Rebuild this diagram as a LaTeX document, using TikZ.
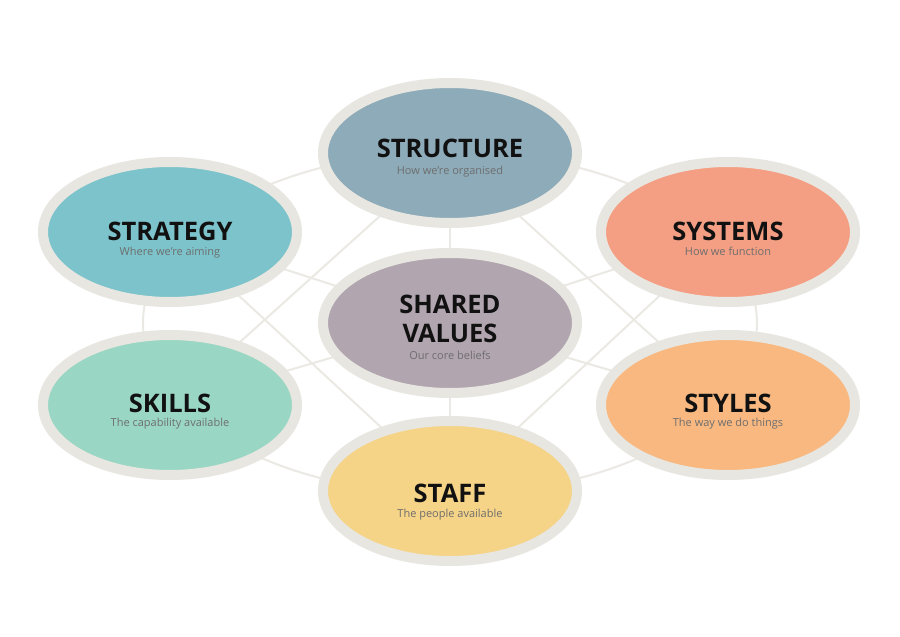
\documentclass[tikz,border=0pt]{standalone}
\usepackage{fontspec}
\setmainfont{Open Sans}
\usetikzlibrary{shapes.geometric,backgrounds}
\definecolor{ringc}{HTML}{E8E6E0}
\definecolor{linec}{HTML}{EBE9E3}
\definecolor{cstructure}{HTML}{8EABB9}
\definecolor{cstrategy}{HTML}{7CC3CB}
\definecolor{csystems}{HTML}{F49F83}
\definecolor{cshared}{HTML}{B1A5AF}
\definecolor{cskills}{HTML}{9AD6C4}
\definecolor{cstyles}{HTML}{F8B880}
\definecolor{cstaff}{HTML}{F5D387}
\definecolor{subc}{HTML}{6E6E6E}
\definecolor{titlec}{HTML}{111111}
\tikzset{
  sbox/.style={ellipse, draw=ringc, line width=10pt, fill=#1,
    minimum width=254pt, minimum height=140pt, inner sep=0pt},
  ttl/.style={anchor=base, text=titlec, font=\fontsize{25.5}{28}\selectfont\bfseries, inner sep=0pt},
  sub/.style={anchor=base, text=subc, font=\fontsize{11}{13}\selectfont, inner sep=0pt},
  web/.style={draw=linec, line width=2pt}
}
\begin{document}
\begin{tikzpicture}[x=1pt,y=-1pt]
\useasboundingbox (0,0) rectangle (900,637);
\node[sbox=cstructure] (structure) at (450,153) {};
\node[sbox=cstrategy] (strategy) at (170,232) {};
\node[sbox=csystems] (systems) at (728,232) {};
\node[sbox=cshared] (shared) at (450,323) {};
\node[sbox=cskills] (skills) at (170,405) {};
\node[sbox=cstyles] (styles) at (728,405) {};
\node[sbox=cstaff] (staff) at (450,491) {};
\begin{pgfonlayer}{background}
\fill[white] (0,0) rectangle (900,637);
\draw[web] (shared.center) ellipse [x radius=307, y radius=171];
\draw[web] (structure.center) -- (staff.center);
\foreach \n in {strategy,systems,skills,styles}
  \draw[web] (shared.center) -- (\n.center);
\draw[web] (structure.center) -- (skills.center);
\draw[web] (structure.center) -- (styles.center);
\draw[web] (strategy.center) -- (staff.center);
\draw[web] (systems.center) -- (staff.center);
\end{pgfonlayer}
\node[ttl] (t1) at (450,157) {STRUCTURE};
\node[sub] (s1) at (450,174) {How we’re organised};
\node[ttl] (t2) at (170,240) {STRATEGY};
\node[sub] (s2) at (170,255) {Where we’re aiming};
\node[ttl] (t3) at (728,240) {SYSTEMS};
\node[sub] (s3) at (728,255) {How we function};
\node[ttl] (t4a) at (450,313) {SHARED};
\node[ttl] (t4b) at (450,342) {VALUES};
\node[sub] (s4) at (450,359) {Our core beliefs};
\node[ttl] (t5) at (170,412) {SKILLS};
\node[sub] (s5) at (170,426) {The capability available};
\node[ttl] (t6) at (728,412) {STYLES};
\node[sub] (s6) at (728,426) {The way we do things};
\node[ttl] (t7) at (450,502) {STAFF};
\node[sub] (s7) at (450,517) {The people available};
\end{tikzpicture}
\end{document}
